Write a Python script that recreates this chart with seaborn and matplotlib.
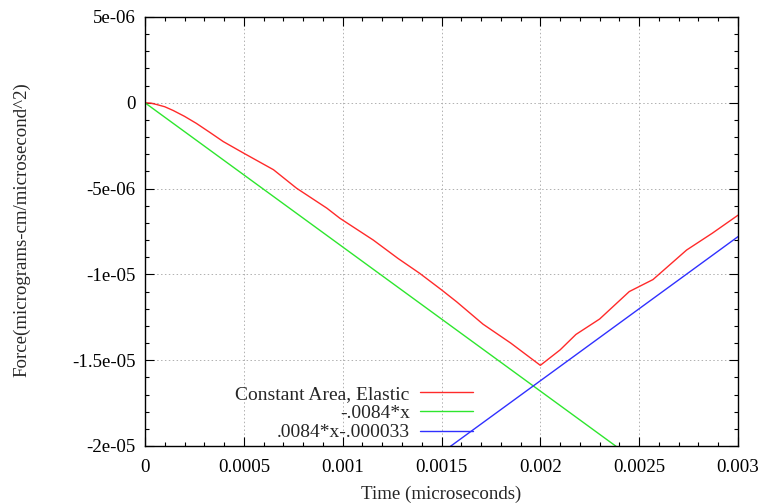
import matplotlib
matplotlib.use("Agg")
import matplotlib.pyplot as plt
import seaborn as sns
import pandas as pd
from matplotlib.ticker import FixedLocator, FixedFormatter, MultipleLocator

# ---- data ----
red_x = [0.0, 0.00003, 0.000059, 0.0001, 0.000143, 0.0002, 0.00026, 0.00033, 0.000396, 0.0005,
         0.00065, 0.000767, 0.00092, 0.000986, 0.001155, 0.00128, 0.00139, 0.0015, 0.001577,
         0.00171, 0.00185, 0.002, 0.0021, 0.00218, 0.0023, 0.00245, 0.00257, 0.00274, 0.00287,
         0.003]
red_y = [0.0, -2.0e-8, -1.0e-7, -2.3e-7, -4.5e-7, -7.9e-7, -1.2e-6, -1.74e-6, -2.26e-6, -2.94e-6,
         -3.9e-6, -4.98e-6, -6.14e-6, -6.73e-6, -8.0e-6, -9.07e-6, -9.94e-6, -1.09e-5, -1.16e-5,
         -1.29e-5, -1.40e-5, -1.53e-5, -1.44e-5, -1.35e-5, -1.26e-5, -1.10e-5, -1.03e-5,
         -8.58e-6, -7.6e-6, -6.55e-6]
green_x = [0.0, 0.003]
green_y = [0.0, -2.52e-5]
blue_x = [0.0015, 0.003]
blue_y = [-2.04e-5, -7.8e-6]

series_labels = ["Constant Area, Elastic", "-.0084*x", ".0084*x-.000033"]
x_ticks = [0, 0.0005, 0.001, 0.0015, 0.002, 0.0025, 0.003]
x_tick_labels = ["0", "0.0005", "0.001", "0.0015", "0.002", "0.0025", "0.003"]
y_ticks = [5e-6, 0, -5e-6, -1e-5, -1.5e-5, -2e-5]
y_tick_labels = ["5e-06", "0", "-5e-06", "-1e-05", "-1.5e-05", "-2e-05"]

sns.set_style("ticks")
plt.rcParams["font.family"] = ["Liberation Serif", "DejaVu Serif"]
plt.rcParams["font.size"] = 13.6

fig = plt.figure(figsize=(7.64, 5.04), dpi=100)
ax = fig.add_axes([145 / 764, 1 - 446 / 504, (738 - 145) / 764, (446 - 17) / 504])

colors = ["#ff2a2a", "#2ee62e", "#3030ff"]
for xs, ys, lab, c in zip([red_x, green_x, blue_x], [red_y, green_y, blue_y], series_labels, colors):
    df = pd.DataFrame({"x": xs, "y": ys})
    sns.lineplot(data=df, x="x", y="y", ax=ax, color=c, linewidth=1.0,
                 label=lab, sort=False, estimator=None)

ax.set_xlim(0, 0.003)
ax.set_ylim(-2e-5, 5e-6)
ax.xaxis.set_major_locator(FixedLocator(x_ticks))
ax.xaxis.set_major_formatter(FixedFormatter(x_tick_labels))
ax.yaxis.set_major_locator(FixedLocator(y_ticks))
ax.yaxis.set_major_formatter(FixedFormatter(y_tick_labels))
ax.xaxis.set_minor_locator(MultipleLocator(0.0001))
ax.yaxis.set_minor_locator(MultipleLocator(1e-6))
ax.tick_params(which="both", direction="in", top=True, right=True, colors="black",
               labelsize=13.6, width=0.8)
ax.tick_params(which="major", length=6.5)
ax.tick_params(which="minor", length=3.2)
ax.tick_params(axis="x", which="major", pad=9)
ax.tick_params(axis="y", which="major", pad=7)
for s in ax.spines.values():
    s.set_linewidth(1.0)
    s.set_color("black")
ax.grid(True, which="major", linestyle=(0, (1.5, 2.5)), color="#b0b0b0", linewidth=0.7)

ax.set_xlabel("Time (microseconds)", fontsize=13.6)
ax.set_ylabel("Force(micrograms-cm/microsecond^2)", fontsize=13.6)
ax.xaxis.set_label_coords(0.5, -0.092)
ax.yaxis.set_label_coords(-0.193, 0.505)

leg = ax.legend(loc="upper right", bbox_to_anchor=(0.576, 0.173), frameon=False,
                markerfirst=False, handlelength=2.7, handletextpad=0.55,
                labelspacing=0.08, borderpad=0.2, fontsize=14)

fig.savefig("out.png", dpi=100)
